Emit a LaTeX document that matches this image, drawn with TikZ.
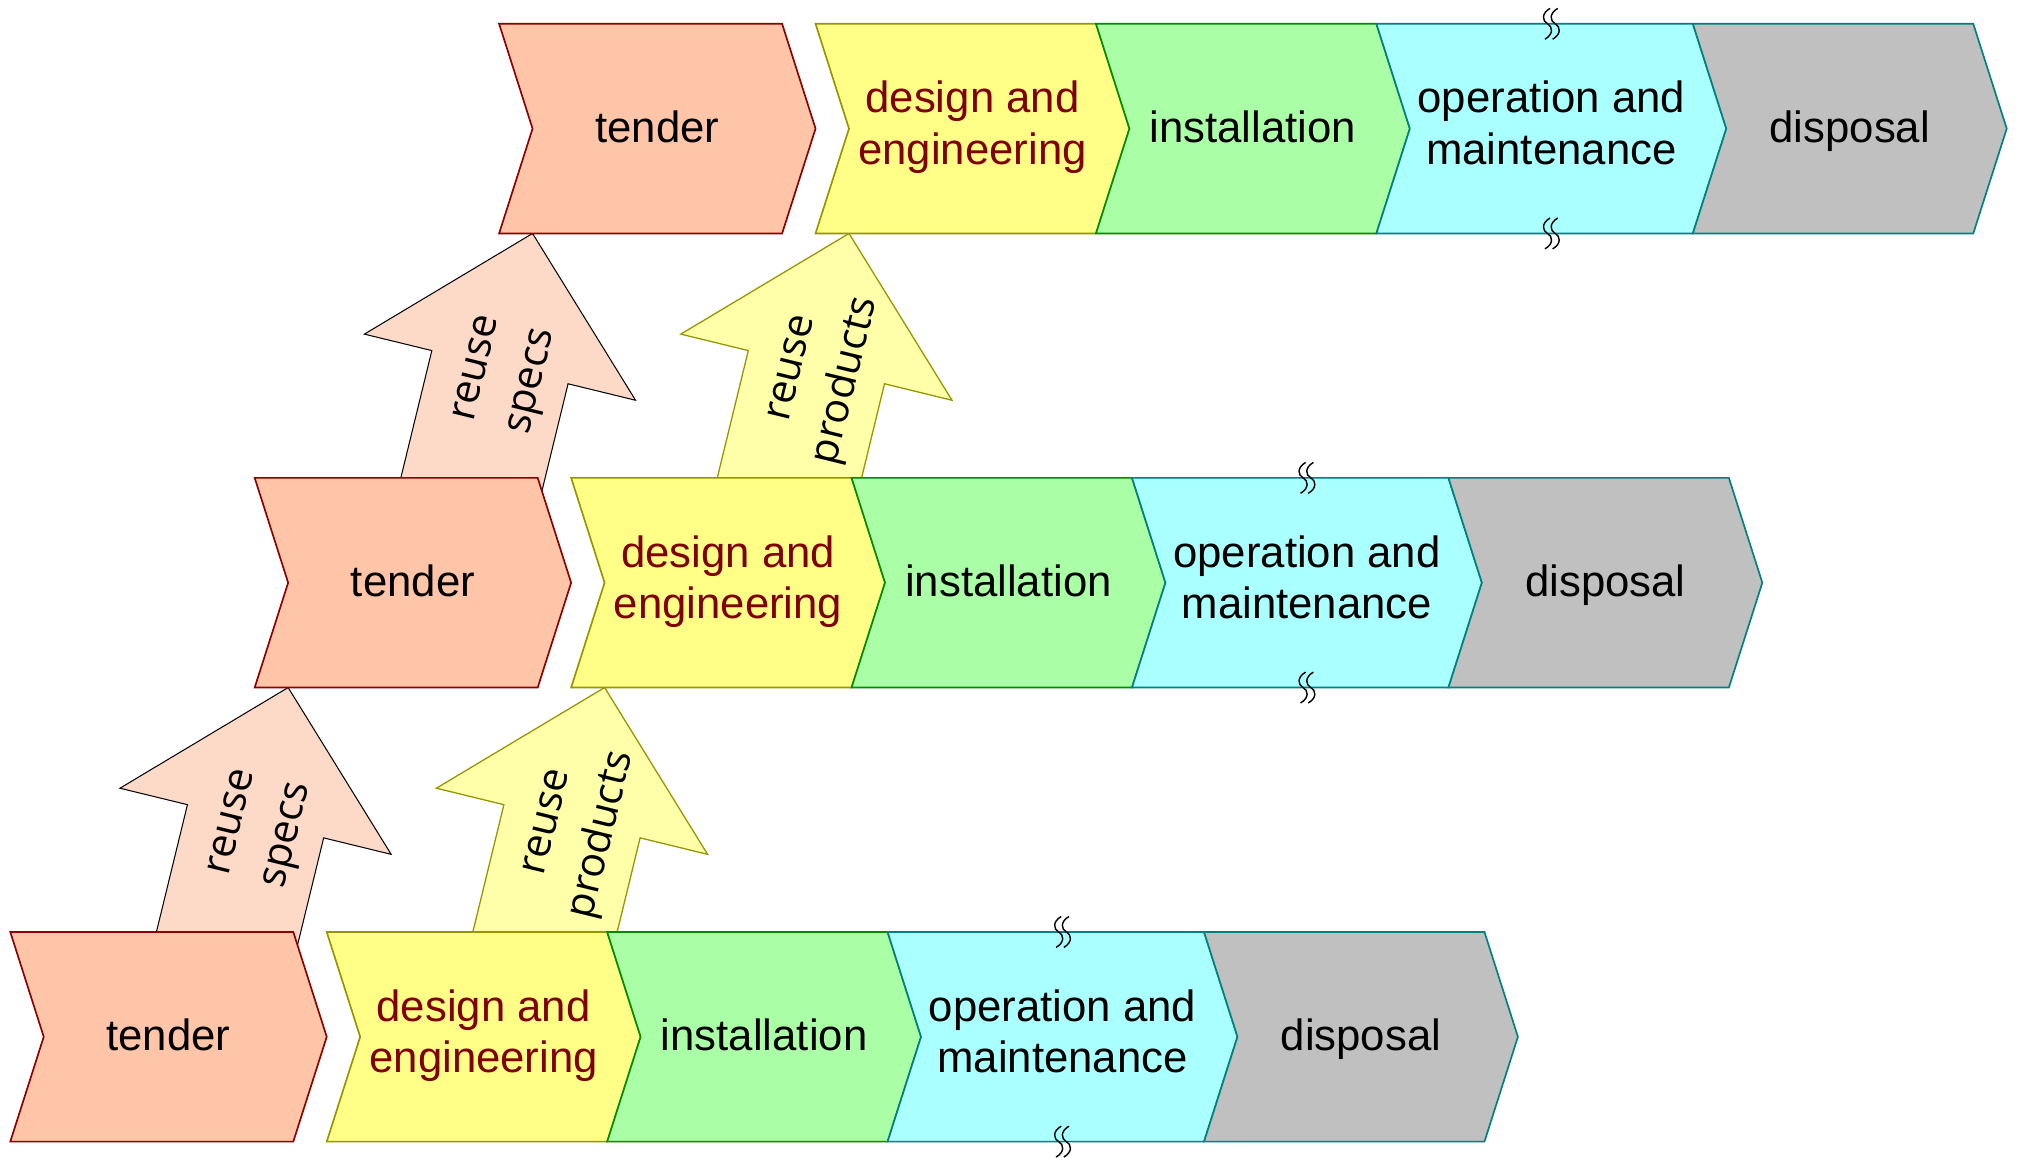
\documentclass[tikz,border=0pt]{standalone}
\usepackage{fontspec}
\setmainfont{Liberation Sans}
\newfontfamily\arrowfont{Open Sans}
\usetikzlibrary{calc,backgrounds}

\definecolor{tenderfill}{RGB}{255,197,168}
\definecolor{tenderline}{RGB}{140,0,0}
\definecolor{designfill}{RGB}{255,255,136}
\definecolor{designline}{RGB}{150,150,0}
\definecolor{installfill}{RGB}{170,255,166}
\definecolor{installline}{RGB}{0,140,0}
\definecolor{opfill}{RGB}{170,255,255}
\definecolor{opline}{RGB}{0,128,128}
\definecolor{disposalfill}{RGB}{192,192,192}
\definecolor{specsfill}{RGB}{253,218,200}
\definecolor{productsfill}{RGB}{255,255,170}
\definecolor{designtext}{RGB}{128,0,0}
\newcommand\linestrut{\rule[-9pt]{0pt}{39pt}}

\begin{document}
\begin{tikzpicture}[x=1pt,y=1pt,
  phase/.style={minimum height=163,inner sep=0pt,outer sep=0pt,align=center,font=\fontsize{34}{40}\selectfont,
    execute at begin node=\linestrut,execute at end node=\linestrut},
  tenderbox/.style={fill=tenderfill,draw=tenderline,line width=1.3},
  designbox/.style={fill=designfill,draw=designline,line width=1.3},
  installbox/.style={fill=installfill,draw=installline,line width=1.3},
  opbox/.style={fill=opfill,draw=opline,line width=1.3},
  disposalbox/.style={fill=disposalfill,draw=opline,line width=1.3},
  specsarrow/.style={fill=specsfill,draw=black,line width=0.8},
  productsarrow/.style={fill=productsfill,draw=designline,line width=1},
  arrowtext/.style={inner sep=0pt,align=center,font=\arrowfont\fontsize{32}{44}\selectfont},
  squig/.style={draw=black,line width=1.1}]
\useasboundingbox (0,0) rectangle (1568,900);
\foreach \r/\xo/\yc in {a/8/94,b/198/447,c/388/800}{
  \foreach \n/\off/\w/\sty/\tc/\txt in {tend/0/220/tenderbox/black/tender,
      des/246/218/designbox/designtext/{design and\\engineering},
      inst/464/218/installbox/black/installation,
      op/682/246/opbox/black/{operation and\\maintenance},
      disp/928/218/disposalbox/black/disposal}{
    \draw[\sty] (\xo+\off,\yc+81.5) -- ++(\w,0) -- ++(26,-81.5) -- ++(-26,-81.5) -- ++(-\w,0) -- ++(26,81.5) -- cycle;
    \node[phase,minimum width=\w+26,text=\tc] (\n\r) at (\xo+\off+\w/2+13,\yc) {\txt};
  }
}
% break marks on operation and maintenance
\foreach \r in {a,b,c}{
  \foreach \a in {north,south}{
    \begin{scope}[shift={(op\r.\a)}]
      \foreach \dx in {-3,3} \draw[squig] (\dx+2,12) .. controls (\dx-5,8) and (\dx-4,2) .. (\dx,0) .. controls (\dx+4,-2) and (\dx+5,-8) .. (\dx-2,-12);
    \end{scope}
  }
}
% reuse arrows, behind the phases
\begin{pgfonlayer}{background}
\foreach \lo/\up in {a/b,b/c}{
  \begin{scope}[shift={($(tend\up.south west)+(26,0)$)},rotate=-13.7]
    \draw[specsarrow] (0,0) -- (108.5,-107) -- (54.5,-107) -- (54.5,-230) -- (-54.5,-230) -- (-54.5,-107) -- (-108.5,-107) -- cycle;
    \node[arrowtext,rotate=76.3] (specs\lo) at (7,-112) {reuse\\specs};
  \end{scope}
  \begin{scope}[shift={($(des\up.south west)+(26,0)$)},rotate=-13.7]
    \draw[productsarrow] (0,0) -- (108.5,-107) -- (54.5,-107) -- (54.5,-230) -- (-54.5,-230) -- (-54.5,-107) -- (-108.5,-107) -- cycle;
    \node[arrowtext,rotate=76.3] (products\lo) at (6,-112) {reuse\\products};
  \end{scope}
}
\end{pgfonlayer}
\end{tikzpicture}
\end{document}
